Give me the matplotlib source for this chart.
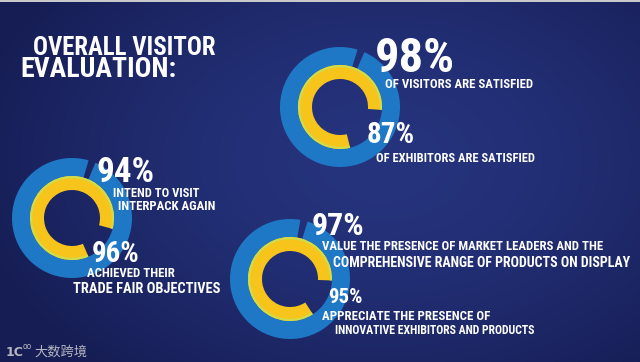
import numpy as np
import matplotlib
matplotlib.use("Agg")
import matplotlib.pyplot as plt
from matplotlib.patches import Wedge, Rectangle
from matplotlib import font_manager as fm

# --- data ---
title_lines = ["OVERALL VISITOR", "EVALUATION:"]
outer_pct = [98, 94, 97]
inner_pct = [87, 96, 95]
outer_labels = [["OF VISITORS ARE SATISFIED"],
                ["INTEND TO VISIT", "INTERPACK AGAIN"],
                ["VALUE THE PRESENCE OF MARKET LEADERS AND THE",
                 "COMPREHENSIVE RANGE OF PRODUCTS ON DISPLAY"]]
inner_labels = [["OF EXHIBITORS ARE SATISFIED"],
                ["ACHIEVED THEIR", "TRADE FAIR OBJECTIVES"],
                ["APPRECIATE THE PRESENCE OF",
                 "INNOVATIVE EXHIBITORS AND PRODUCTS"]]
watermark = "大数跨境"

# --- layout (pixel coords, y down) ---
centers = [(340, 107), (72, 218), (290, 279)]
r_out, r_mid, r_in = 60, 42, 28
notch_at = [69, 70, 76]              # screen angle of the small cut in the blue ring
yellow_gap = [(-76, -4), (-67, -15), (-57, -2)]
# text boxes: (x_left, x_right, y_top, y_baseline)
title_box = [(33, 215, 33, 55), (20, 178, 57, 77)]
outer_pct_box = [(375, 457, 37, 72), (97, 155, 155, 182), (312, 367, 212, 235)]
inner_pct_box = [(367, 425, 122, 143), (92, 140, 240, 262), (328, 367, 288, 303)]
outer_lab_box = [[(385, 532, 78, 88)],
                 [(113, 199, 187, 197), (118, 215, 200, 210)],
                 [(322, 600, 240, 250), (333, 632, 255, 267)]]
inner_lab_box = [[(376, 538, 153, 162)],
                 [(87, 175, 266, 277), (73, 220, 280, 293)],
                 [(322, 488, 310, 320), (335, 537, 325, 334)]]

BLUE = "#1f78c6"
YELLOW = "#f6c41b"
LIME = "#cfdc4c"

# pick a condensed font if one is installed
names = {f.name for f in fm.fontManager.ttflist}
FONT = "Liberation Sans"
for cand in ["Liberation Sans Narrow", "Roboto Condensed", "DejaVu Sans Condensed",
             "Open Sans Condensed"]:
    if cand in names:
        FONT = cand
        break

W, H = 640, 362
fig = plt.figure(figsize=(6.4, 3.62), dpi=100)
ax = fig.add_axes([0, 0, 1, 1])
ax.set_xlim(0, W)
ax.set_ylim(H, 0)
ax.axis("off")

# background: navy with darker edges
yy, xx = np.mgrid[0:H, 0:W]
d = np.clip(np.sqrt(((xx - 380) / 420.0) ** 2 + ((yy - 160) / 280.0) ** 2), 0, 1) ** 1.6
c0 = np.array([38, 52, 126]) / 255.0
c1 = np.array([22, 29, 84]) / 255.0
bg = c0[None, None, :] * (1 - d[..., None]) + c1[None, None, :] * d[..., None]
ax.imshow(bg, extent=(0, W, H, 0), zorder=0, aspect="auto")
ax.add_patch(Rectangle((0, 0), W, 2, color="#c9c9cc", zorder=1, lw=0))


def arc(c, r, width, a1, a2, color, z):
    # screen angles a1 -> a2 counterclockwise; y axis is flipped
    ax.add_patch(Wedge(c, r, -a2, -a1, width=width, facecolor=color, lw=0, zorder=z))


for i, c in enumerate(centers):
    n = notch_at[i]
    arc(c, r_out, r_out - r_mid, n + 4, n - 3 + 360, BLUE, 2)
    g1, g2 = yellow_gap[i]
    arc(c, r_mid, r_mid - r_in, g2, g1 + 360, YELLOW, 3)
    arc(c, r_mid, 2.2, g2, g1 + 360, LIME, 4)

renderer = fig.canvas.get_renderer()


def put(s, box, **kw):
    x0, x1, ytop, ybase = box
    fs = (ybase - ytop) / 0.72 * 72 / 100.0
    t = ax.text(x0, ybase, s, fontsize=fs, fontfamily=FONT, fontweight="bold",
                color="white", ha="left", va="baseline", zorder=6, **kw)
    w = t.get_window_extent(renderer).width
    target = x1 - x0
    if w > target:
        t.set_fontsize(fs * target / w)
    return t


for s, b in zip(title_lines, title_box):
    put(s, b)
for i in range(3):
    put(f"{outer_pct[i]}%", outer_pct_box[i])
    put(f"{inner_pct[i]}%", inner_pct_box[i])
    for s, b in zip(outer_labels[i], outer_lab_box[i]):
        put(s, b)
    for s, b in zip(inner_labels[i], inner_lab_box[i]):
        put(s, b)

# watermark
ax.text(6, 356, "1C", fontsize=9, color="#b4b6c2", fontfamily="DejaVu Sans",
        fontweight="bold", zorder=6)
ax.text(23, 349, "oo", fontsize=5.5, color="#b4b6c2", fontfamily="DejaVu Sans", zorder=6)
ax.text(34, 356, watermark, fontsize=9.5, color="#b4b6c2",
        fontfamily=["Noto Sans CJK SC", "DejaVu Sans"], zorder=6)

fig.savefig("out.png", dpi=100)
